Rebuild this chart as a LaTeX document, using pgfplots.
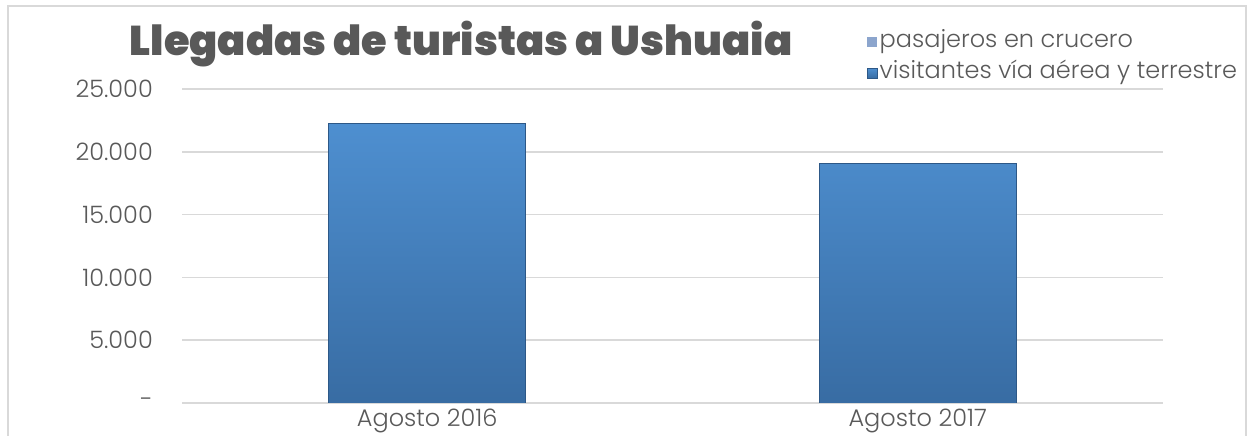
\documentclass[border=0pt]{standalone}
\usepackage{pgfplots}
\pgfplotsset{compat=1.18}
\usepackage{fontspec}
\setmainfont{Poppins Light}
\newfontfamily\titlefont{Poppins Black}
\definecolor{txt}{RGB}{89,89,89}
\definecolor{gridc}{RGB}{217,217,217}
\definecolor{bartop}{RGB}{78,143,208}
\definecolor{barbot}{RGB}{56,108,163}
\definecolor{baredge}{RGB}{45,88,135}
\definecolor{lightser}{RGB}{140,165,205}
\begin{document}
\begin{tikzpicture}[x=1pt,y=1pt]
\useasboundingbox (0,0) rectangle (1256,436);
\draw[gridc,line width=2pt] (8,-10) -- (8,430) -- (1246,430) -- (1246,-10);
\node[anchor=base,text=txt,font=\titlefont\fontsize{41.5}{48}\selectfont,inner sep=0pt] at (461,380) {Llegadas de turistas a Ushuaia};
\begin{axis}[
  at={(182pt,33pt)}, anchor=south west,
  scale only axis, width=981pt, height=314pt,
  ybar stacked, bar width=197pt,
  xmin=-0.5, xmax=1.5, ymin=0, ymax=25000,
  scaled y ticks=false,
  xtick={0,1}, xticklabels={Agosto 2016,Agosto 2017},
  ytick={0,5000,10000,15000,20000,25000},
  yticklabels={{-\hspace{5pt}},{5.000},{10.000},{15.000},{20.000},{25.000}},
  axis line style={draw=none},
  major tick length=0pt,
  ymajorgrids, major grid style={gridc,line width=1.6pt},
  ticklabel style={text=txt,font=\fontsize{24}{28}\selectfont},
  yticklabel style={inner sep=0pt,xshift=-29pt},
  xticklabel style={inner sep=0pt,yshift=-6pt},
  legend style={at={(0.698,1.19)},anchor=north west,draw=none,fill=none,
    font=\fontsize{24}{28}\selectfont,text=txt,row sep=6pt,
    nodes={text height=16pt,text depth=5pt},
    legend cell align=left,inner sep=0pt},
  legend image code/.code={\fill[#1] (0pt,-5pt) rectangle (10pt,5pt);},
  ]
\addplot[fill=lightser,draw=none] coordinates {(0,0) (1,0)};
\addplot[top color=bartop,bottom color=barbot,draw=baredge,line width=0.8pt] coordinates {(0,22270) (1,19080)};
\legend{pasajeros en crucero,visitantes vía aérea y terrestre}
\end{axis}
\end{tikzpicture}
\end{document}
